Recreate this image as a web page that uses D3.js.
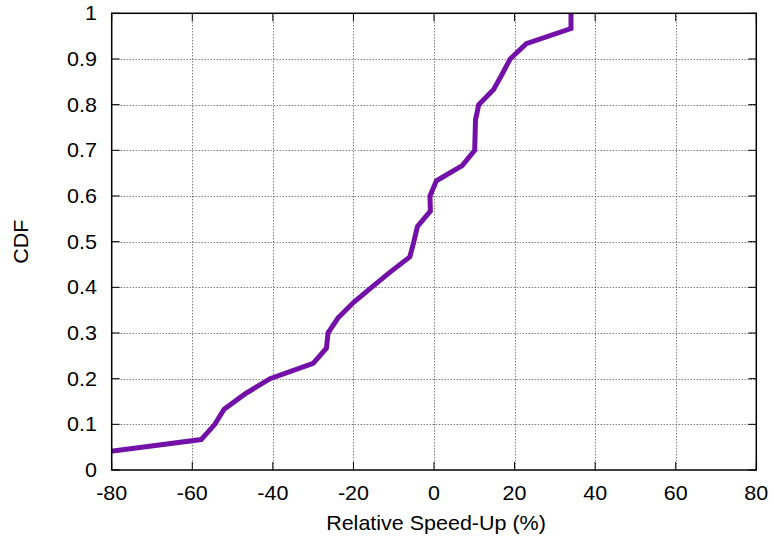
<!DOCTYPE html>
<html><head><meta charset="utf-8">
<script src="https://cdn.jsdelivr.net/npm/d3@7"></script>
<style>
body{margin:0;background:#fff;}
text{font-family:"Liberation Sans",Arial,Helvetica,sans-serif;font-size:20px;fill:#000;}
</style></head>
<body><svg id="c" width="773" height="539"></svg>
<script>
const speedUp = [-87, -57.8, -54.4, -52.1, -46.9, -40.7, -30.0, -26.7, -26.3, -23.8, -20.0, -15.5, -10.9, -6.0, -5.0, -4.1, -0.9, -1.0, 0.6, 7.0, 10.1, 10.2, 10.3, 11.1, 14.8, 16.9, 18.9, 22.9, 34.0, 34.0];
const cdf = [1,2,3,4,5,6,7,8,9,10,11,12,13,14,15,16,17,18,19,20,21,22,23,24,25,26,27,28,29,30].map(k => k / 30);
const xTicks = [-80, -60, -40, -20, 0, 20, 40, 60, 80];
const yTicks = [0, 0.1, 0.2, 0.3, 0.4, 0.5, 0.6, 0.7, 0.8, 0.9, 1];
const xLabel = "Relative Speed-Up (%)";
const yLabel = "CDF";

const svg = d3.select("#c");
const L = 111.7, R = 756.3, T = 13.3, B = 470;
const x = d3.scaleLinear().domain([-80, 80]).range([L, R]);
const y = d3.scaleLinear().domain([0, 1]).range([B, T]);
const sx = 1.075;

// grid
const g = svg.append("g");
g.selectAll(".gx").data(xTicks.slice(1, -1)).enter().append("line")
  .attr("x1", d => Math.round(x(d)) + 0.5).attr("x2", d => Math.round(x(d)) + 0.5)
  .attr("y1", T).attr("y2", B)
  .attr("stroke", "#444").attr("stroke-width", 1).attr("stroke-dasharray", "1,2");
g.selectAll(".gy").data(yTicks.slice(1, -1)).enter().append("line")
  .attr("y1", d => Math.round(y(d)) + 0.5).attr("y2", d => Math.round(y(d)) + 0.5)
  .attr("x1", L).attr("x2", R)
  .attr("stroke", "#444").attr("stroke-width", 1).attr("stroke-dasharray", "1,2");

// line
svg.append("clipPath").attr("id", "clip").append("rect")
  .attr("x", L).attr("y", T - 3).attr("width", R - L).attr("height", B - T + 3);
const line = d3.line().x((d, i) => x(speedUp[i])).y((d, i) => y(cdf[i]));
svg.append("path").datum(cdf).attr("d", line)
  .attr("clip-path", "url(#clip)")
  .attr("fill", "none").attr("stroke", "#7210a8").attr("stroke-width", 5)
  .attr("stroke-linejoin", "miter").attr("stroke-linecap", "butt");

// frame
svg.append("rect").attr("x", L).attr("y", T).attr("width", R - L).attr("height", B - T)
  .attr("fill", "none").attr("stroke", "#000").attr("stroke-width", 1.5);

// ticks
const tl = 8;
xTicks.forEach(d => {
  const px = x(d);
  svg.append("line").attr("x1", px).attr("x2", px).attr("y1", B).attr("y2", B - tl).attr("stroke", "#000");
  svg.append("line").attr("x1", px).attr("x2", px).attr("y1", T).attr("y2", T + tl).attr("stroke", "#000");
  svg.append("text").attr("transform", `translate(${px},${B + 30}) scale(${sx},1)`)
    .attr("text-anchor", "middle").text(d);
});
yTicks.forEach(d => {
  const py = y(d);
  svg.append("line").attr("x1", L).attr("x2", L + tl).attr("y1", py).attr("y2", py).attr("stroke", "#000");
  svg.append("line").attr("x1", R).attr("x2", R - tl).attr("y1", py).attr("y2", py).attr("stroke", "#000");
  svg.append("text").attr("transform", `translate(97,${py + 7}) scale(${sx},1)`)
    .attr("text-anchor", "end").text(d);
});

svg.append("text").attr("transform", `translate(${(L + R) / 2 + 2},${530}) scale(${sx},1)`)
  .attr("text-anchor", "middle").text(xLabel);
svg.append("text").attr("transform", `translate(28,${(T + B) / 2}) rotate(-90) scale(${sx},1)`)
  .attr("text-anchor", "middle").text(yLabel);
</script></body></html>
